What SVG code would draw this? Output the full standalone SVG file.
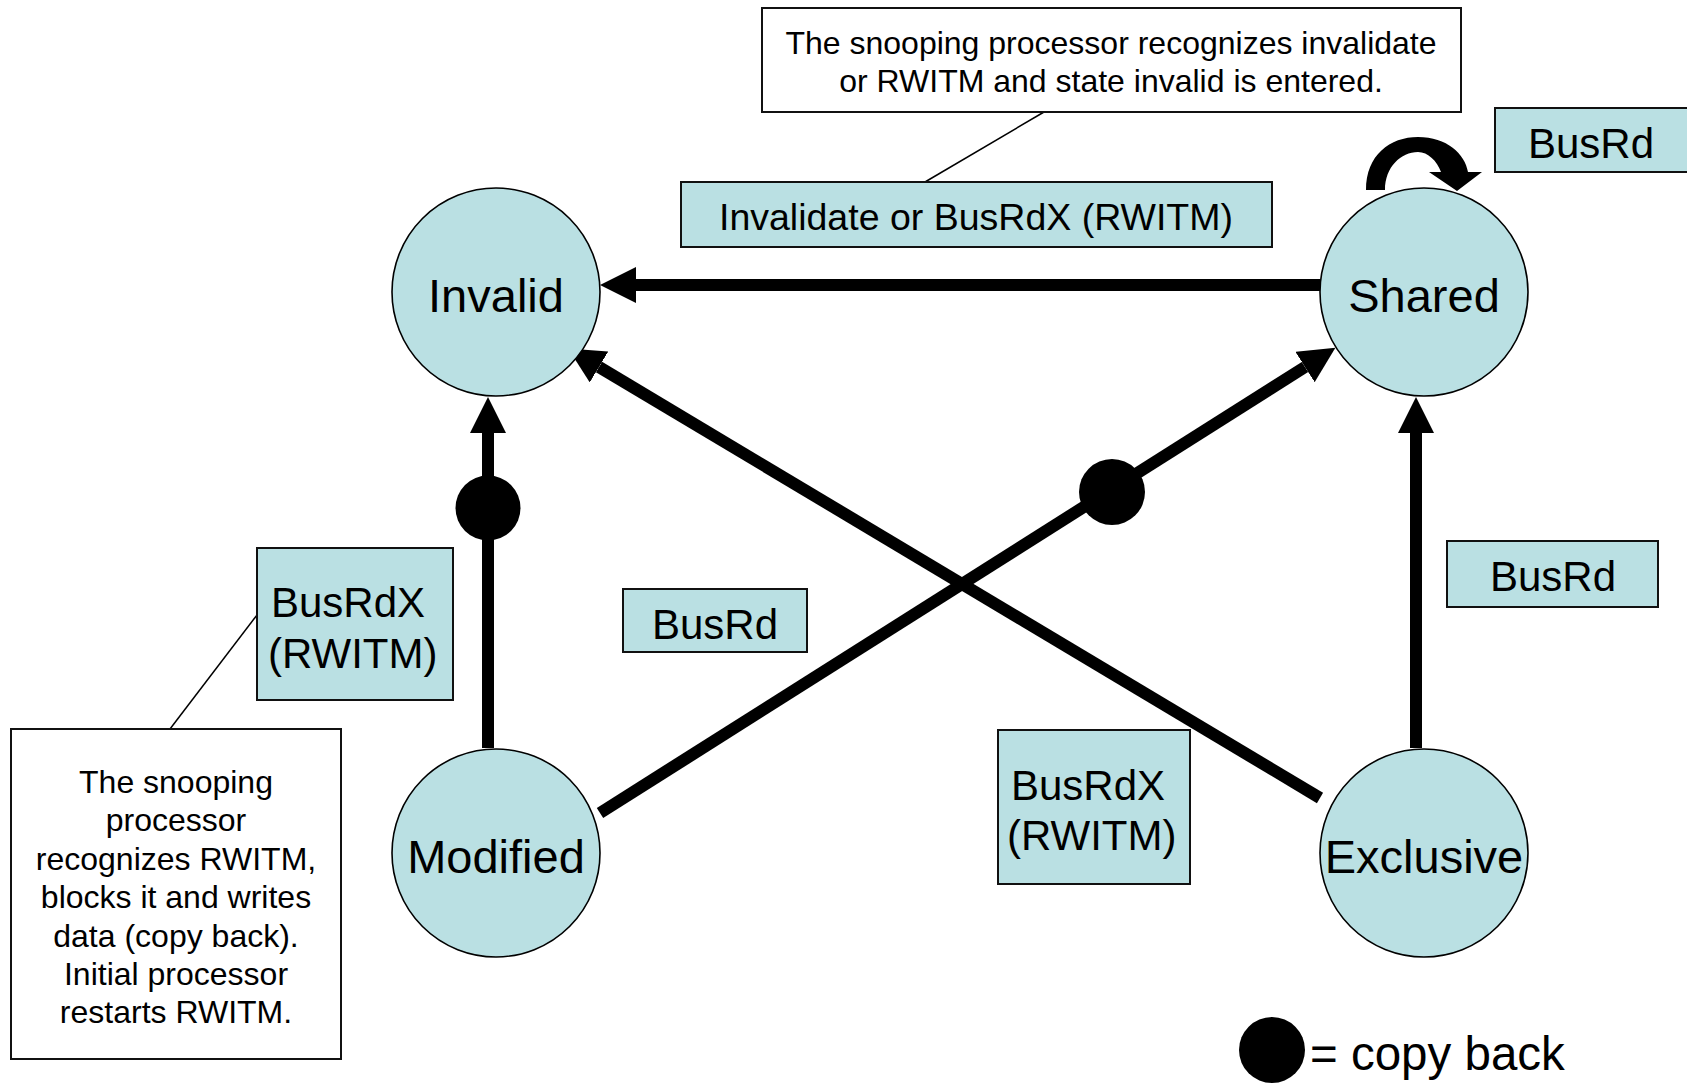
<svg xmlns="http://www.w3.org/2000/svg" width="1687" height="1083" viewBox="0 0 1687 1083">
<style>
text{font-family:"Liberation Sans",Arial,sans-serif;fill:#000}
.state{fill:#BAE0E3;stroke:#000;stroke-width:1.6}
.lbl{fill:#BAE0E3;stroke:#111;stroke-width:2}
.note{fill:#fff;stroke:#111;stroke-width:2}
.big{font-size:47px;text-anchor:middle}
.l40{font-size:42px}
.c40{font-size:42px;text-anchor:middle}
.n32{font-size:32px;text-anchor:middle}
.edge{stroke:#000;stroke-width:12;fill:none;marker-end:url(#ah)}
.lead{stroke:#000;stroke-width:1.5;fill:none}
</style>
<defs>
<marker id="ah" markerUnits="userSpaceOnUse" viewBox="0 0 36 36" markerWidth="36" markerHeight="36" refX="0" refY="18" orient="auto">
<path d="M0,0 L36,18 L0,36 Z" fill="#000"/>
</marker>
</defs>
<rect width="1687" height="1083" fill="#fff"/>

<g id="connectors">
<line class="edge" x1="1320" y1="285" x2="636" y2="285"/>
<line class="edge" x1="488" y1="748" x2="488" y2="433"/>
<line class="edge" x1="1416" y1="748" x2="1416" y2="433"/>
<line class="edge" x1="600" y1="813" x2="1305" y2="367"/>
<line class="edge" x1="1320" y1="798" x2="599" y2="367"/>
<circle cx="488" cy="508" r="32.5" fill="#000"/>
<circle cx="1112" cy="492" r="33" fill="#000"/>
<path id="selfloop" d="M1366,190 C1366,155 1390,137 1418,137 C1447,137 1465,154 1468,172 L1482,172 L1457,191 L1429,172 L1441,172 C1437,161 1428,152 1418,152 C1401,152 1385,167 1385,190 Z" fill="#000"/>
<line class="lead" x1="1044" y1="112" x2="925" y2="182"/>
<line class="lead" x1="257" y1="615" x2="170" y2="729"/>
</g>

<g id="invalid">
<circle class="state" cx="496" cy="292" r="104"/>
<text class="big" x="496" y="312">Invalid</text>
</g>
<g id="shared">
<circle class="state" cx="1424" cy="292" r="104"/>
<text class="big" x="1424" y="312">Shared</text>
</g>
<g id="modified">
<circle class="state" cx="496" cy="853" r="104"/>
<text class="big" x="496" y="873">Modified</text>
</g>
<g id="exclusive">
<circle class="state" cx="1424" cy="853" r="104"/>
<text class="big" x="1424" y="873">Exclusive</text>
</g>

<g id="note-top">
<rect class="note" x="762" y="8" width="699" height="104"/>
<text class="n32" x="1111" y="54">The snooping processor recognizes invalidate</text>
<text class="n32" x="1111" y="92">or RWITM and state invalid is entered.</text>
</g>
<g id="label-invalidate">
<rect class="lbl" x="681" y="182" width="591" height="65"/>
<text x="976" y="230" style="font-size:37.5px;text-anchor:middle">Invalidate or BusRdX (RWITM)</text>
</g>
<g id="label-busrd-loop">
<rect class="lbl" x="1495" y="108" width="200" height="64"/>
<text class="c40" x="1591" y="158">BusRd</text>
</g>
<g id="label-busrd-right">
<rect class="lbl" x="1447" y="541" width="211" height="66"/>
<text class="c40" x="1553" y="591">BusRd</text>
</g>
<g id="label-busrd-mid">
<rect class="lbl" x="623" y="589" width="184" height="63"/>
<text class="c40" x="715" y="639">BusRd</text>
</g>
<g id="label-busrdx-left">
<rect class="lbl" x="257" y="548" width="196" height="152"/>
<text class="l40" x="271" y="617">BusRdX</text>
<text class="l40" x="268" y="668">(RWITM)</text>
</g>
<g id="label-busrdx-right">
<rect class="lbl" x="998" y="730" width="192" height="154"/>
<text class="l40" x="1011" y="800">BusRdX</text>
<text class="l40" x="1007" y="850">(RWITM)</text>
</g>
<g id="note-left">
<rect class="note" x="11" y="729" width="330" height="330"/>
<text class="n32" x="176" y="793">The snooping</text>
<text class="n32" x="176" y="831">processor</text>
<text class="n32" x="176" y="870">recognizes RWITM,</text>
<text class="n32" x="176" y="908">blocks it and writes</text>
<text class="n32" x="176" y="947">data (copy back).</text>
<text class="n32" x="176" y="985">Initial processor</text>
<text class="n32" x="176" y="1023">restarts RWITM.</text>
</g>
<g id="legend">
<circle cx="1272" cy="1050" r="33" fill="#000"/>
<text x="1310" y="1070" style="font-size:47.5px">= copy back</text>
</g>
</svg>
